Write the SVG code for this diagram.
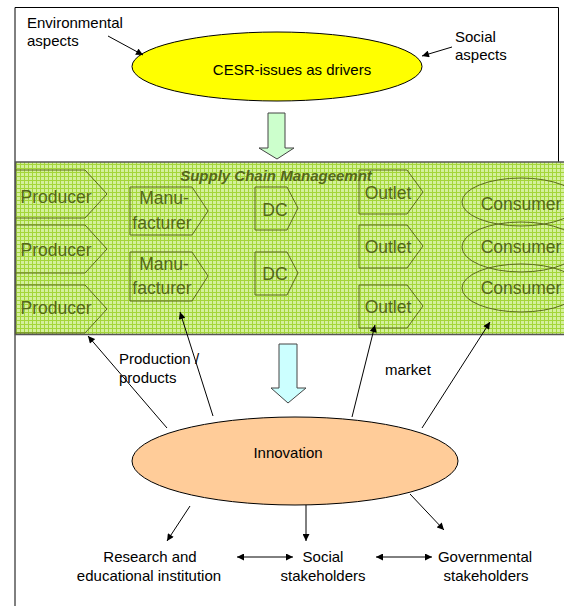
<svg xmlns="http://www.w3.org/2000/svg" width="564" height="606" viewBox="0 0 564 606">
<defs>
<pattern id="grid" width="4" height="4" patternUnits="userSpaceOnUse">
<rect width="4" height="4" fill="#d4f09c"/>
<path d="M0,0.5H4M0.5,0V4" stroke="#a4d63a" stroke-width="1"/>
</pattern>
<marker id="ah" viewBox="0 0 10 10" refX="10" refY="5" markerWidth="8" markerHeight="7" markerUnits="userSpaceOnUse" orient="auto">
<path d="M0,0L10,5L0,10z" fill="#000"/>
</marker>
<marker id="as" viewBox="0 0 10 10" refX="0" refY="5" markerWidth="8" markerHeight="7" markerUnits="userSpaceOnUse" orient="auto">
<path d="M10,0L0,5L10,10z" fill="#000"/>
</marker>
</defs>
<style>
text{font-family:"Liberation Sans",Arial,sans-serif;font-size:15px;fill:#000}
.lbl{font-size:17.5px;fill:#546819;text-anchor:middle}
.shp{fill:none;stroke:#5a6b1c;stroke-width:1}
.c{text-anchor:middle}
.ln{stroke:#000;stroke-width:1;fill:none}
</style>
<path d="M15,610V7.5H558.5V162" fill="none" stroke="#000" stroke-width="1"/>
<g id="band">
<rect x="15.5" y="162" width="560" height="172.5" fill="url(#grid)" stroke="#555" stroke-width="1.5"/>
<text x="276" y="181" style="font-weight:bold;font-style:italic;fill:#546819" class="c">Supply Chain Manageemnt</text>
</g>
<g id="producer1"><path class="shp" d="M15,170H85L107,194L85,218H15"/><text class="lbl" x="56" y="203">Producer</text></g>
<g id="producer2"><path class="shp" d="M15,225H85L107,249L85,273H15"/><text class="lbl" x="56" y="256">Producer</text></g>
<g id="producer3"><path class="shp" d="M15,285H85L107,309L85,333H15"/><text class="lbl" x="56" y="314">Producer</text></g>
<g id="manufacturer1"><path class="shp" d="M130,187H192L208,211L192,235H130Z"/><text class="lbl" x="164" y="204">Manu-</text><text class="lbl" x="162" y="229">facturer</text></g>
<g id="manufacturer2"><path class="shp" d="M130,252H192L208,276L192,301H130Z"/><text class="lbl" x="164" y="270">Manu-</text><text class="lbl" x="162" y="294">facturer</text></g>
<g id="dc1"><path class="shp" d="M255,187H287L298,208L287,230H255Z"/><text class="lbl" x="275" y="216">DC</text></g>
<g id="dc2"><path class="shp" d="M255,252H287L298,273L287,295H255Z"/><text class="lbl" x="275" y="280">DC</text></g>
<g id="outlet1"><path class="shp" d="M359,170H407L423,192L407,214H359Z"/><text class="lbl" x="388" y="199">Outlet</text></g>
<g id="outlet2"><path class="shp" d="M359,225H407L423,246L407,268H359Z"/><text class="lbl" x="388" y="253">Outlet</text></g>
<g id="outlet3"><path class="shp" d="M359,285H407L423,306L407,328H359Z"/><text class="lbl" x="388" y="313">Outlet</text></g>
<g id="consumer1"><ellipse class="shp" cx="521" cy="202" rx="59" ry="24"/><text class="lbl" x="521" y="210">Consumer</text></g>
<g id="consumer2"><ellipse class="shp" cx="521" cy="247" rx="59" ry="25"/><text class="lbl" x="521" y="253">Consumer</text></g>
<g id="consumer3"><ellipse class="shp" cx="521" cy="288" rx="59" ry="24"/><text class="lbl" x="521" y="294">Consumer</text></g>
<g id="cesr"><ellipse cx="277" cy="66.5" rx="145" ry="34.5" fill="#ffff00" stroke="#000" stroke-width="1"/><text class="c" x="292" y="75">CESR-issues as drivers</text></g>
<g id="innovation"><ellipse cx="295" cy="461" rx="163" ry="44" fill="#ffcc99" stroke="#000" stroke-width="1"/><text class="c" x="288" y="458">Innovation</text></g>
<g id="env"><text x="27" y="28">Environmental</text><text x="27" y="46">aspects</text></g>
<g id="soc"><text x="455" y="42">Social</text><text x="455" y="60">aspects</text></g>
<g id="arrow-down1"><path d="M268,113H285V148H294L277,159L259,148H268Z" fill="#ccffcc" stroke="#444" stroke-width="1"/></g>
<g id="arrow-down2"><path d="M279,344H297V388H306L288,403L271,388H279Z" fill="#ccffff" stroke="#444" stroke-width="1"/></g>
<g id="labels">
<text x="119" y="364">Production /</text>
<text x="119" y="383">products</text>
<text x="385" y="375">market</text>
</g>
<g id="research"><text class="c" x="150" y="562">Research and</text><text class="c" x="149" y="581">educational institution</text></g>
<g id="social"><text class="c" x="323" y="562">Social</text><text class="c" x="323" y="581">stakeholders</text></g>
<g id="gov"><text class="c" x="485" y="562">Governmental</text><text class="c" x="486" y="581">stakeholders</text></g>
<g id="connectors">
<line class="ln" x1="108" y1="36" x2="143" y2="55" marker-end="url(#ah)"/>
<line class="ln" x1="452" y1="47" x2="422" y2="56" marker-end="url(#ah)"/>
<line class="ln" x1="167" y1="428" x2="88" y2="336" marker-end="url(#ah)"/>
<line class="ln" x1="213" y1="416" x2="180" y2="312" marker-end="url(#ah)"/>
<line class="ln" x1="352" y1="417" x2="375" y2="325" marker-end="url(#ah)"/>
<line class="ln" x1="422" y1="428" x2="490" y2="322" marker-end="url(#ah)"/>
<line class="ln" x1="190" y1="506" x2="167" y2="541" marker-end="url(#ah)"/>
<line class="ln" x1="306" y1="505" x2="306" y2="541" marker-end="url(#ah)"/>
<line class="ln" x1="410" y1="494" x2="444" y2="530" marker-end="url(#ah)"/>
<line class="ln" x1="237" y1="557" x2="293" y2="557" marker-start="url(#as)" marker-end="url(#ah)"/>
<line class="ln" x1="376" y1="557" x2="432" y2="557" marker-start="url(#as)" marker-end="url(#ah)"/>
</g>
</svg>
